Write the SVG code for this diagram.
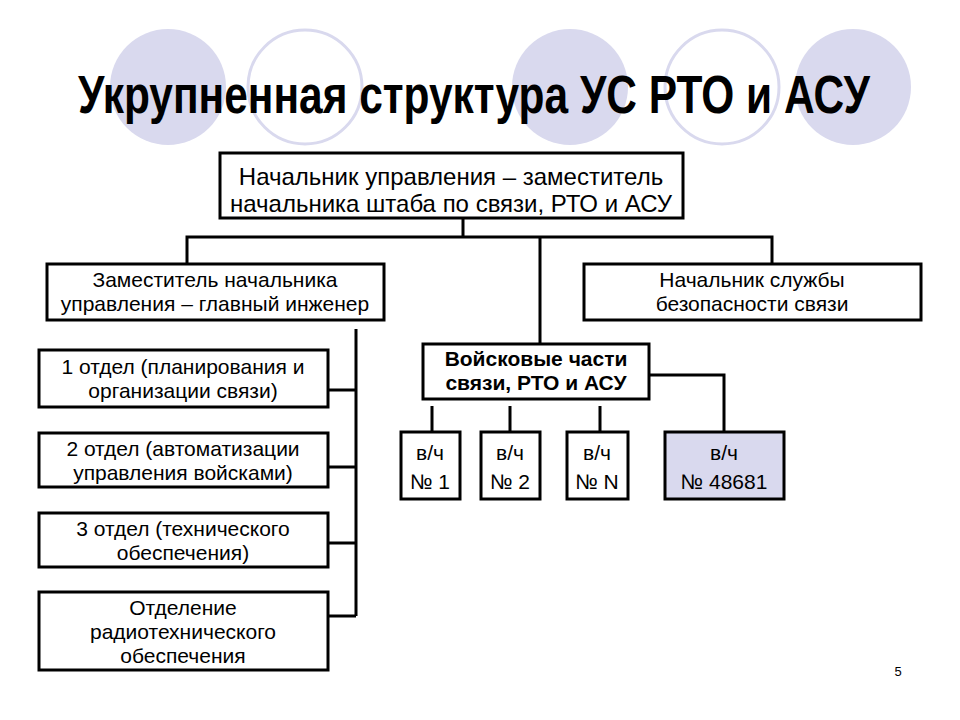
<svg xmlns="http://www.w3.org/2000/svg" width="960" height="720" viewBox="0 0 960 720">
<style>
.bx{fill:#fff;stroke:#000;stroke-width:3}
.hl{fill:#d9d9ee;stroke:#000;stroke-width:3}
.t{font-family:"Liberation Sans",Arial,sans-serif;font-size:21px;fill:#000;text-anchor:middle}
.lg{font-size:24px}
.b{font-weight:bold}
.cn{fill:none;stroke:#000;stroke-width:3}
.cf{fill:#d9d9ee}
.co{fill:#fff;stroke:#d9d9ee;stroke-width:3}
</style>
<rect width="960" height="720" fill="#fff"/>
<g id="decor">
<circle class="cf" cx="168" cy="87" r="58"/>
<circle class="co" cx="305" cy="87" r="57"/>
<circle class="cf" cx="570" cy="87" r="58"/>
<circle class="co" cx="722" cy="87" r="57"/>
<circle class="cf" cx="853" cy="87" r="58"/>
</g>
<text id="title" x="78" y="113" textLength="792" lengthAdjust="spacingAndGlyphs" style="font-family:'Liberation Sans',Arial,sans-serif;font-weight:bold;font-size:53px">Укрупненная структура УС РТО и АСУ</text>
<g id="connectors">
<path class="cn" d="M463 218V237M187 263V237H772V263M540 237V344"/>
<path class="cn" d="M356 329V616M328 390H356M328 467H356M328 543H356M328 616H356"/>
<path class="cn" d="M649 375H724V432M432 406V432M510 406V432M600 406V432"/>
</g>
<g id="n0"><rect class="bx" x="220" y="153" width="463" height="65"/>
<text class="t lg" x="451" y="185">Начальник управления – заместитель</text>
<text class="t lg" x="451" y="212">начальника штаба по связи, РТО и АСУ</text></g>
<g id="n1"><rect class="bx" x="47" y="264" width="337" height="56"/>
<text class="t" x="215" y="287">Заместитель начальника</text>
<text class="t" x="215" y="311">управления – главный инженер</text></g>
<g id="n2"><rect class="bx" x="584" y="264" width="337" height="56"/>
<text class="t" x="752" y="287">Начальник службы</text>
<text class="t" x="752" y="311">безопасности связи</text></g>
<g id="n3"><rect class="bx" x="423" y="344" width="226" height="55"/>
<text class="t b" x="536" y="366">Войсковые части</text>
<text class="t b" x="536" y="390">связи, РТО и АСУ</text></g>
<g id="d1"><rect class="bx" x="39" y="350" width="289" height="57"/>
<text class="t" x="183" y="374">1 отдел (планирования и</text>
<text class="t" x="183" y="398">организации связи)</text></g>
<g id="d2"><rect class="bx" x="39" y="433" width="289" height="54"/>
<text class="t" x="183" y="456">2 отдел (автоматизации</text>
<text class="t" x="183" y="480">управления войсками)</text></g>
<g id="d3"><rect class="bx" x="39" y="513" width="289" height="54"/>
<text class="t" x="183" y="536">3 отдел (технического</text>
<text class="t" x="183" y="560">обеспечения)</text></g>
<g id="d4"><rect class="bx" x="39" y="592" width="289" height="78"/>
<text class="t" x="183" y="615">Отделение</text>
<text class="t" x="183" y="639">радиотехнического</text>
<text class="t" x="183" y="663">обеспечения</text></g>
<g id="u1"><rect class="bx" x="401" y="432" width="59" height="67"/>
<text class="t" x="430" y="460">в/ч</text><text class="t" x="430" y="489">№ 1</text></g>
<g id="u2"><rect class="bx" x="481" y="432" width="59" height="67"/>
<text class="t" x="510" y="460">в/ч</text><text class="t" x="510" y="489">№ 2</text></g>
<g id="u3"><rect class="bx" x="567" y="432" width="61" height="67"/>
<text class="t" x="597" y="460">в/ч</text><text class="t" x="597" y="489">№ N</text></g>
<g id="u4"><rect class="hl" x="665" y="432" width="119" height="67"/>
<text class="t" x="724" y="460">в/ч</text><text class="t" x="724" y="489">№ 48681</text></g>
<text x="898" y="676" style="font-family:'Liberation Sans',Arial,sans-serif;font-size:13px;text-anchor:middle">5</text>
</svg>
